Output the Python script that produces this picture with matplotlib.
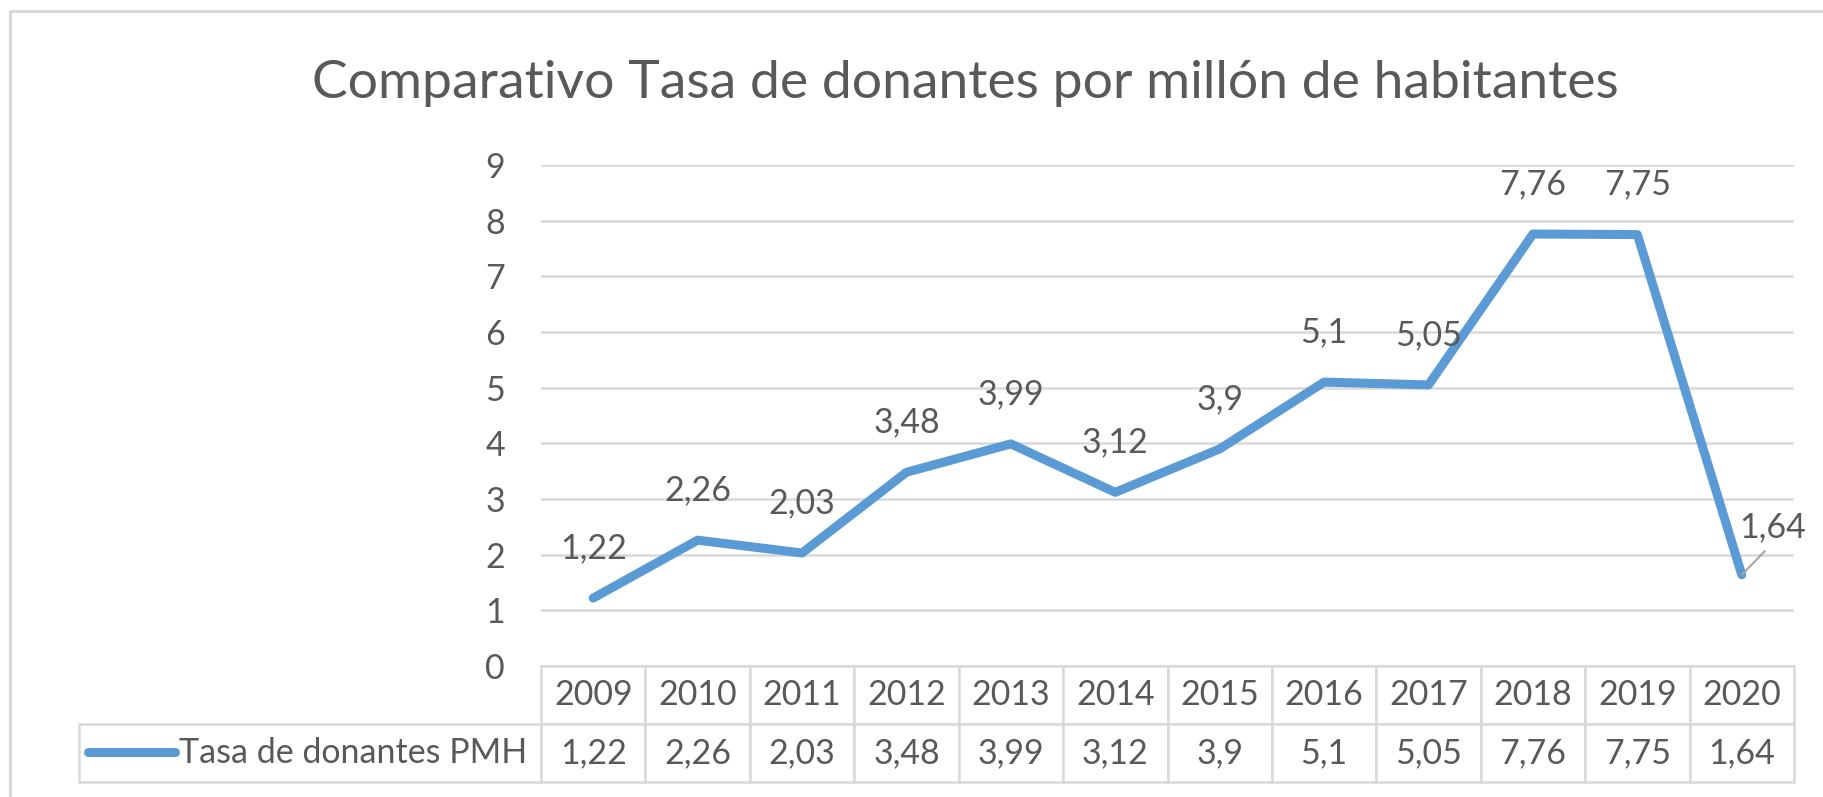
import matplotlib
matplotlib.use('Agg')
import matplotlib.pyplot as plt
from matplotlib.lines import Line2D

# Datos
years = ['2009', '2010', '2011', '2012', '2013', '2014',
         '2015', '2016', '2017', '2018', '2019', '2020']
tasa = [1.22, 2.26, 2.03, 3.48, 3.99, 3.12, 3.9, 5.1, 5.05, 7.76, 7.75, 1.64]
serie = 'Tasa de donantes PMH'
titulo = 'Comparativo Tasa de donantes por millón de habitantes'

AZUL = '#5B9BD5'
GRIS_TEXTO = '#595959'
GRIS_LINEA = '#D9D9D9'
FS = 24.5


def fmt(v):
    # formato con coma decimal, sin ceros de sobra
    return f'{v:g}'.replace('.', ',')


plt.rcParams['font.family'] = ['Lato', 'DejaVu Sans']

W, H = 1824, 797
fig = plt.figure(figsize=(W / 100, H / 100), dpi=100)

# area del grafico en pixeles: x 541..1794, y 165..666
left, right, top, bottom = 541, 1794, 165, 666
ax = fig.add_axes([left / W, 1 - bottom / H, (right - left) / W, (bottom - top) / H])

x = list(range(len(years)))
ax.plot(x, tasa, color=AZUL, lw=6.5, solid_capstyle='round',
        solid_joinstyle='round', zorder=3)

ax.set_xlim(-0.5, len(years) - 0.5)
ax.set_ylim(0, 9)
ax.set_yticks(range(10))
ax.set_xticks([])
ax.tick_params(axis='y', length=0, pad=26, labelsize=FS, labelcolor=GRIS_TEXTO)
for s in ax.spines.values():
    s.set_visible(False)
ax.yaxis.grid(True, color=GRIS_LINEA, lw=1.8)
ax.set_axisbelow(True)

# Etiquetas de datos
for i, v in enumerate(tasa):
    if i == len(tasa) - 1:
        ax.annotate(fmt(v), (i, v), xytext=(22, 34), textcoords='offset points',
                    ha='center', va='center', fontsize=FS, color=GRIS_TEXTO,
                    arrowprops=dict(arrowstyle='-', color='#A6A6A6', lw=1.5,
                                    shrinkA=5, shrinkB=0, relpos=(0.5, 0)))
    else:
        ax.annotate(fmt(v), (i, v), xytext=(0, 36), textcoords='offset points',
                    ha='center', va='center', fontsize=FS, color=GRIS_TEXTO)

# Tabla de datos (anchos ya en unidades de ejes para que el bbox no reescale)
tab_left, tab_bottom = 79, 782
bw = right - left
bh = bottom - top
tab_h = (tab_bottom - bottom) / bh
tabla = ax.table(cellText=[[fmt(v) for v in tasa]], rowLabels=[serie],
                 colLabels=years, cellLoc='center', rowLoc='right',
                 bbox=[0, -tab_h, 1, tab_h])
tabla.auto_set_font_size(False)
tabla.set_fontsize(FS)
tabla._autoColumns = []  # que no recalcule el ancho de la columna de etiquetas
col_w = 1 / len(years)
label_w = (left - tab_left) / bw
for (r, c), cell in tabla.get_celld().items():
    cell.set_edgecolor(GRIS_LINEA)
    cell.set_linewidth(1.8)
    cell.get_text().set_color(GRIS_TEXTO)
    cell.set_width(label_w if c == -1 else col_w)
    cell.set_height(tab_h / 2)
    if c == -1:
        cell.PAD = 14 / (left - tab_left)

# muestra de la serie en la leyenda
ax.add_line(Line2D([(88 - left) / bw, (175 - left) / bw],
                   [-(752 - bottom) / bh] * 2, transform=ax.transAxes,
                   clip_on=False, color=AZUL, lw=6.5, solid_capstyle='round',
                   zorder=5))

# Titulo
fig.text(965 / W, 1 - 98 / H, titulo, ha='center', va='baseline',
         fontsize=38.5, color=GRIS_TEXTO)

# Borde del grafico
fig.add_artist(Line2D([10 / W, 10 / W, 1], [0, 1 - 11 / H, 1 - 11 / H],
                      transform=fig.transFigure, color=GRIS_LINEA, lw=2.2))

fig.savefig('out.png', dpi=100, facecolor='white')
plt.close(fig)
